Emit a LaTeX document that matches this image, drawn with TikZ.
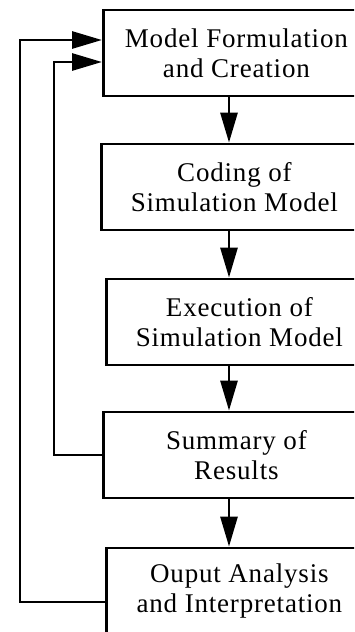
\documentclass[tikz,border=0pt]{standalone}
\usepackage{fontspec}
\setmainfont{Liberation Serif}[LetterSpace=3]
\usetikzlibrary{arrows.meta}

\begin{document}
\begin{tikzpicture}[x=1pt, y=-1pt,
        stage/.style={draw, line width=2.8pt, anchor=west, minimum width=266pt,
            minimum height=86pt, inner sep=0pt, align=center,
            font=\fontsize{27}{30}\selectfont},
        flow/.style={line width=2.8pt, -{Triangle[length=30pt, width=17pt]}}]

        \useasboundingbox (0,0) rectangle (354,632);
        \clip (0,0) rectangle (354,632);

        \node[stage] (model) at (102,53) {Model Formulation\\and Creation};
        \node[stage] (coding) at (100,187) {Coding of\\Simulation Model};
        \node[stage] (exec) at (105,322) {Execution of\\Simulation Model};
        \node[stage] (summary) at (102,455) {Summary of\\Results};
        \node[stage] (output) at (105,591) {Ouput Analysis\\and Interpretation};

        \coordinate (ax) at (229,0);
        \draw[flow] (model.south -| ax) -- (coding.north -| ax);
        \draw[flow] (coding.south -| ax) -- (exec.north -| ax);
        \draw[flow] (exec.south -| ax) -- (summary.north -| ax);
        \draw[flow] (summary.south -| ax) -- (output.north -| ax);

        \draw[flow] (summary.west) -- ++(-48,0) |- ([yshift=-9pt]model.west);
        \draw[flow] ([yshift=-11pt]output.west) -- ++(-85,0) |- ([yshift=13pt]model.west);

    \end{tikzpicture}
\end{document}
